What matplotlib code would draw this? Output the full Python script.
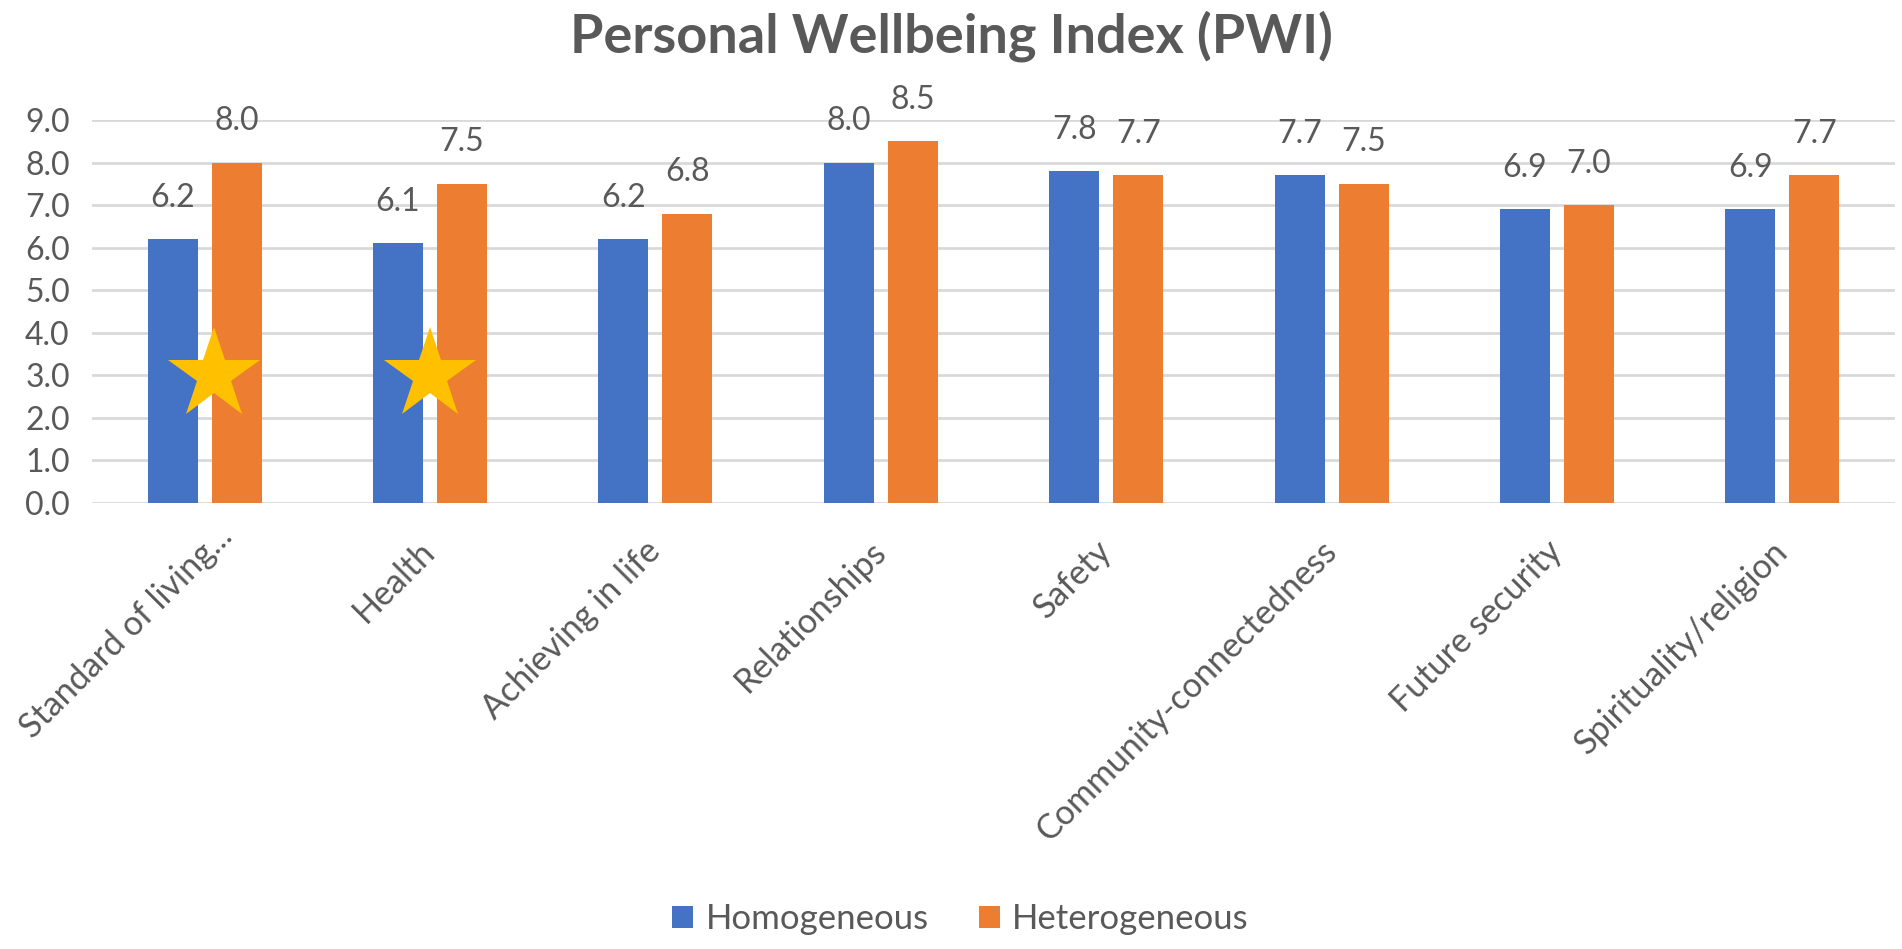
import numpy as np
import matplotlib
matplotlib.use("Agg")
import matplotlib.pyplot as plt
from matplotlib.transforms import ScaledTranslation

# --- data ---
categories = ["Standard of living...", "Health", "Achieving in life", "Relationships",
              "Safety", "Community-connectedness", "Future security", "Spirituality/religion"]
homogeneous = [6.2, 6.1, 6.2, 8.0, 7.8, 7.7, 6.9, 6.9]
heterogeneous = [8.0, 7.5, 6.8, 8.5, 7.7, 7.5, 7.0, 7.7]
yticks = [0.0, 1.0, 2.0, 3.0, 4.0, 5.0, 6.0, 7.0, 8.0, 9.0]
star_x = [0.04, 1.0]
star_y = [3.0, 3.0]

BLUE = "#4472C4"
ORANGE = "#ED7D31"
GREY = "#595959"
GRID = "#D9D9D9"

plt.rcParams["font.family"] = ["Lato", "DejaVu Sans"]

fig = plt.figure(figsize=(19.02, 9.49), dpi=100)
ax = fig.add_axes([92 / 1902, 1 - 503 / 949, (1895 - 92) / 1902, (503 - 120) / 949])

x = np.arange(len(categories))
w = 0.222
off = 0.142
b1 = ax.bar(x - off, homogeneous, w, color=BLUE, label="Homogeneous", zorder=2)
b2 = ax.bar(x + off, heterogeneous, w, color=ORANGE, label="Heterogeneous", zorder=2)

# value labels above bars
for bars, vals in [(b1, homogeneous), (b2, heterogeneous)]:
    for rect, v in zip(bars, vals):
        ax.annotate(f"{v:.1f}", (rect.get_x() + rect.get_width() / 2, v),
                    xytext=(0, 19), textcoords="offset points",
                    ha="center", va="bottom", fontsize=23, color=GREY)

# stars
ax.plot(star_x, star_y, ls="none", marker="*", markersize=69,
        color="#FFC000", markeredgewidth=0, zorder=3)

ax.set_xlim(-0.5, len(categories) - 0.5)
ax.set_ylim(0, 9)
ax.set_yticks(yticks)
ax.set_yticklabels([f"{t:.1f}" for t in yticks], fontsize=23, color=GREY)
ax.yaxis.grid(True, color=GRID, lw=2, zorder=0)
ax.set_axisbelow(True)
for s in ax.spines.values():
    s.set_visible(False)
ax.tick_params(axis="both", length=0)
ax.tick_params(axis="y", pad=16)

ax.set_xticks(x)
ax.set_xticklabels(categories, rotation=45, ha="right", va="center",
                   rotation_mode="anchor", fontsize=24.5, color=GREY)
ax.tick_params(axis="x", pad=31)
# truncated first label sits a bit further right/up, as in the original
first = ax.get_xticklabels()[0]
first.set_transform(first.get_transform() + ScaledTranslation(0.22, 0.15, fig.dpi_scale_trans))

fig.text(0.5, 1 - 53 / 949, "Personal Wellbeing Index (PWI)", ha="center", va="baseline",
         fontsize=39, fontweight="bold", color=GREY)

fig.legend(handles=[b1, b2], loc="center", bbox_to_anchor=(0.505, 1 - 919 / 949),
           ncol=2, frameon=False, fontsize=25, labelcolor=GREY,
           handlelength=0.6, handleheight=0.6, handletextpad=0.35, columnspacing=1.45)

fig.savefig("out.png", dpi=100, facecolor="white")
